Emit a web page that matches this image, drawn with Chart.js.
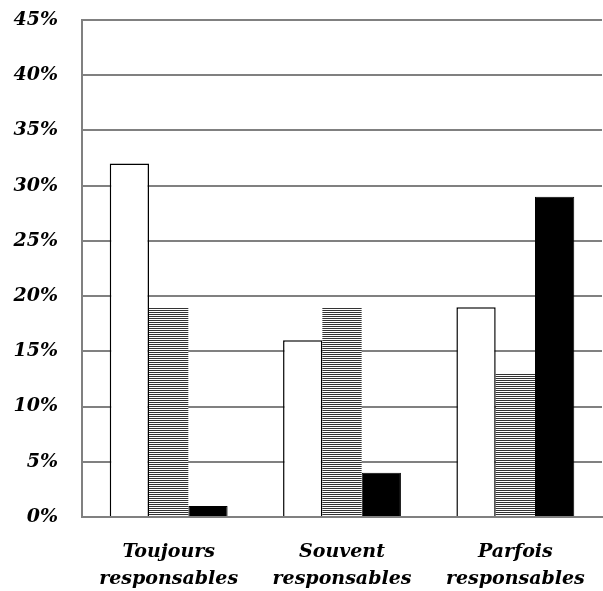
<!DOCTYPE html>
<html>
<head>
<meta charset="utf-8">
<script src="https://cdn.jsdelivr.net/npm/chart.js@4/dist/chart.umd.min.js"></script>
<style>
  html, body { margin: 0; padding: 0; background: #fff; }
  #wrap { width: 603px; height: 591px; }
</style>
</head>
<body>
<div id="wrap"><canvas id="chart" width="603" height="591"></canvas></div>
<script>
// data
const categories = [["Toujours", "responsables"], ["Souvent", "responsables"], ["Parfois", "responsables"]];
const serieBlanc = [32, 16, 19];
const serieRaye = [19, 19, 13];
const serieNoir = [1, 4, 29];
const yTicks = [0, 5, 10, 15, 20, 25, 30, 35, 40, 45];

// horizontal stripes for the middle series
function stripes() {
  const c = document.createElement('canvas');
  c.width = 4; c.height = 2;
  const g = c.getContext('2d');
  g.fillStyle = '#fff'; g.fillRect(0, 0, 4, 2);
  g.fillStyle = '#333'; g.fillRect(0, 0, 4, 1);
  return g.createPattern(c, 'repeat');
}

const font = { family: "'DejaVu Serif', serif", size: 19, weight: 'bold', style: 'italic' };

new Chart(document.getElementById('chart'), {
  type: 'bar',
  data: {
    labels: categories,
    datasets: [
      { data: serieBlanc, backgroundColor: '#fff', borderColor: '#000', borderWidth: 1.5 },
      { data: serieRaye, backgroundColor: stripes(), borderWidth: 0 },
      { data: serieNoir, backgroundColor: '#000', borderColor: '#000', borderWidth: 1 }
    ]
  },
  options: {
    responsive: false,
    animation: false,
    devicePixelRatio: 1,
    layout: { padding: { top: 20, right: 1, left: 0, bottom: 0 } },
    plugins: { legend: { display: false }, tooltip: { enabled: false } },
    datasets: { bar: { categoryPercentage: 0.68, barPercentage: 1 } },
    scales: {
      x: {
        grid: { display: false },
        border: { color: '#808080', width: 2 },
        ticks: { color: '#000', font: Object.assign({}, font, { lineHeight: 1.45 }), padding: 13, maxRotation: 0 },
        afterFit: s => { s.height = 74; }
      },
      y: {
        min: 0, max: 45,
        afterBuildTicks: s => { s.ticks = yTicks.map(v => ({ value: v })); },
        grid: { color: '#808080', lineWidth: 2, drawTicks: false },
        border: { color: '#808080', width: 2 },
        ticks: { color: '#000', font: font, padding: 24, callback: v => v + '%' },
        afterFit: s => { s.width = 82; s.paddingTop = 0; s.paddingBottom = 0; }
      }
    }
  }
});
</script>
</body>
</html>
